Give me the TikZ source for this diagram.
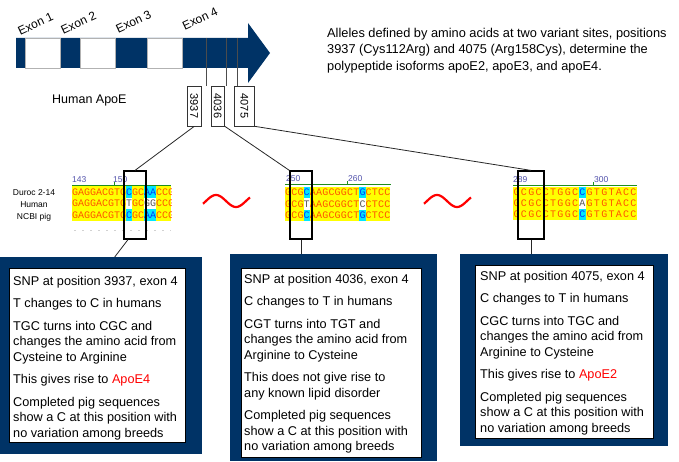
\documentclass[tikz,border=0pt]{standalone}
\usepackage{fontspec}
\setmainfont{Liberation Sans}
\newfontfamily\seqmono{Liberation Mono}
\usetikzlibrary{calc}
\definecolor{navy}{RGB}{0,51,102}
\definecolor{seqorange}{RGB}{255,85,0}
\definecolor{seqyellow}{RGB}{255,255,0}
\definecolor{seqcyan}{RGB}{0,230,255}
\definecolor{seqblue}{RGB}{0,60,255}
\definecolor{seqgrey}{RGB}{90,90,90}
\definecolor{numblue}{RGB}{80,80,170}
\definecolor{rulegreen}{RGB}{30,140,30}
\newcommand\boxfont{\fontsize{12.7}{15.5}\selectfont}
\newcommand\seqrow[6]{%
  \foreach \c/\t [count=\i from 0] in {#6}{%
    \node[seqcell,\t,minimum width=#4pt,minimum height=#5pt] (#1c\i) at ({#2+(\i+0.5)*#4},{#3+#5/2}) {\c};
  }}
\begin{document}
\begin{tikzpicture}[x=1pt,y=-1pt,
  conn/.style={line width=0.8pt,black!85},
  tick/.style={line width=0.7pt,gray!60!black},
  posbox/.style={draw=black!80,line width=0.7pt,fill=white,inner sep=0pt,minimum height=40pt,font=\fontsize{11}{12}\selectfont},
  exonlabel/.style={font=\fontsize{12}{13}\selectfont,inner sep=0pt},
  window/.style={draw=black,line width=1.2pt,inner sep=0pt,minimum height=68pt},
  seqcell/.style={inner sep=0pt,text height=6.5pt,text depth=0pt,font=\seqmono\fontsize{10}{10}\selectfont},
  co/.style={text=seqorange},
  cb/.style={fill=seqcyan,text=seqblue},
  cg/.style={fill=white,text=seqgrey},
  rowlabel/.style={inner sep=0pt,anchor=base,font=\fontsize{8.5}{9}\selectfont},
  seqnum/.style={inner sep=0pt,anchor=base west,text=numblue,font=\fontsize{8.5}{9}\selectfont},
  ruler/.style={rulegreen,line width=0.7pt},
  squig/.style={red,line width=2.2pt},
  outerbox/.style={fill=navy,draw=navy,inner sep=0pt,anchor=north west},
  innerbox/.style={fill=white,draw=black,line width=0.6pt,inner sep=0pt,anchor=north west},
  boxtext/.style={inner sep=0pt,anchor=north west,align=left,font=\boxfont}]
\useasboundingbox (0,0) rectangle (679,462);

% ---- gene arrow ----
\fill[navy] (16,38) -- (248,38) -- (248,23) -- (270,53) -- (248,83) -- (248,68) -- (16,68) -- cycle;
\foreach \a/\b in {25/60,80/115,147/182}
  \filldraw[fill=white,draw=gray!60,line width=0.6pt] (\a,38) rectangle (\b,68);

\node[exonlabel] (ex1) at (35.5,24) {\rotatebox{25}{Exon 1}};
\node[exonlabel] (ex2) at (78.5,23) {\rotatebox{25}{Exon 2}};
\node[exonlabel] (ex3) at (133.5,21.5) {\rotatebox{25}{Exon 3}};
\node[exonlabel] (ex4) at (200,18.5) {\rotatebox{25}{Exon 4}};

\node[inner sep=0pt,anchor=base west,font=\fontsize{12.5}{14}\selectfont] (human) at (52,103.5) {Human ApoE};

% position boxes
\node[posbox,minimum width=13.5pt] (b3937) at (194.25,106) {\rotatebox{-90}{3937}};
\node[posbox,minimum width=13.5pt] (b4036) at (217.75,106) {\rotatebox{-90}{4036}};
\node[posbox,minimum width=20pt] (b4075) at (244.5,106) {\rotatebox{-90}{4075}};
\coordinate (t1) at (206,38);
\coordinate (t2) at (226,38);
\coordinate (t3) at (237.5,38);
\draw[tick] (t1) -- (t1 |- b3937.north);
\draw[tick] (t2) -- (t2 |- b4036.north);
\draw[tick] (t3) -- (t3 |- b4075.north);

% top description
\node[inner sep=0pt,anchor=north west,align=left,font=\fontsize{12.8}{16.7}\selectfont] (desc) at (327,25)
  {\rule{0pt}{12pt}Alleles defined by amino acids at two variant sites, positions\\
   3937 (Cys112Arg) and 4075 (Arg158Cys), determine the\\
   polypeptide isoforms apoE2, apoE3, and apoE4.};

% ---- row labels ----
\node[rowlabel] (lab1) at (34,196) {Duroc 2-14};
\node[rowlabel] (lab2) at (34,207.5) {Human};
\node[rowlabel] (lab3) at (34,219) {NCBI pig};

% ---- block 1 ----
\fill[seqyellow] (72,186) rectangle (171,221);
\begin{scope}
\clip (72,186) rectangle (171,221);
\seqrow{aa}{72}{186}{6}{11.67}{G/co,A/co,G/co,G/co,A/co,C/co,G/co,T/co,G/co,C/cb,G/co,C/co,A/cb,A/cb,C/co,C/co,G/co}
\seqrow{ab}{72}{197.67}{6}{11.67}{G/co,A/co,G/co,G/co,A/co,C/co,G/co,T/co,G/co,T/cg,G/co,C/co,G/cg,G/cg,C/co,C/co,G/co}
\seqrow{ac}{72}{209.33}{6}{11.67}{G/co,A/co,G/co,G/co,A/co,C/co,G/co,T/co,G/co,C/cb,G/co,C/co,A/cb,A/cb,C/co,C/co,G/co}
\end{scope}
\draw[ruler] (72,185) -- (171,185) (114,185) -- (114,182);
\node[seqnum] (n143) at (72,182.5) {143};
\node[seqnum] (n150) at (113,182.5) {150};
\draw[gray!35,line width=0.7pt,dash pattern=on 2pt off 6pt] (74,230) -- (171,230);

% ---- block 2 ----
\fill[seqyellow] (285,187) rectangle (390.4,221);
\seqrow{ba}{285}{187}{6.2}{11.33}{G/co,C/co,G/co,C/cb,A/co,A/co,G/co,C/co,G/co,G/co,C/co,T/co,G/cb,C/co,T/co,C/co,C/co}
\seqrow{bb}{285}{198.33}{6.2}{11.33}{G/co,C/co,G/co,T/cg,A/co,A/co,G/co,C/co,G/co,G/co,C/co,T/co,C/cg,C/co,T/co,C/co,C/co}
\seqrow{bc}{285}{209.67}{6.2}{11.33}{G/co,C/co,G/co,C/cb,A/co,A/co,G/co,C/co,G/co,G/co,C/co,T/co,G/cb,C/co,T/co,C/co,C/co}
\draw[ruler] (285,184.5) -- (391,184.5) (347,184.5) -- (347,181.5);
\node[seqnum] (n250) at (286,181.5) {250};
\node[seqnum] (n260) at (348,181.5) {260};

% ---- block 3 ----
\fill[seqyellow] (513,187) rectangle (637.1,220);
\seqrow{ca}{513}{187}{7.3}{11}{G/co,C/co,G/co,C/co,C/co,T/co,G/co,G/co,C/co,C/cb,G/co,T/co,G/co,T/co,A/co,C/co,C/co}
\seqrow{cb}{513}{198}{7.3}{11}{G/co,C/co,G/co,C/co,C/co,T/co,G/co,G/co,C/co,A/cg,G/co,T/co,G/co,T/co,A/co,C/co,C/co}
\seqrow{cc}{513}{209}{7.3}{11}{G/co,C/co,G/co,C/co,C/co,T/co,G/co,G/co,C/co,C/cb,G/co,T/co,G/co,T/co,A/co,C/co,C/co}
\draw[ruler] (513,185) -- (637,185) (593,185) -- (593,182);
\node[seqnum] (n289) at (513,182.5) {289};
\node[seqnum] (n300) at (594,182.5) {300};

% ---- squiggles ----
\draw[squig] plot[domain=0:47,samples=50,smooth] ({203+\x},{201-6*sin((\x-3)*9)});
\draw[squig] plot[domain=0:47,samples=50,smooth] ({424+\x},{201-6*sin((\x-3)*9)});

% ---- windows ----
\node[window,minimum width=22pt] (w1) at (135,205) {};
\node[window,minimum width=22pt] (w2) at (301,205) {};
\node[window,minimum width=26pt] (w3) at (531,205) {};

\draw[conn] (b3937.south) -- (w1.north);
\draw[conn] (b4036.south east) -- (w2.north west);
\draw[conn] (b4075.south east) -- (w3.north);

% ---- explanation boxes ----
\node[outerbox,minimum width=201pt,minimum height=196pt] (box1) at (0,257) {};
\node[innerbox,minimum width=176pt,minimum height=174pt] (in1) at (9,268) {};
\node[outerbox,minimum width=206pt,minimum height=206pt] (box2) at (230,254) {};
\node[innerbox,minimum width=180pt,minimum height=189pt] (in2) at (241,268) {};
\node[outerbox,minimum width=207pt,minimum height=191pt] (box3) at (460,254) {};
\node[innerbox,minimum width=178pt,minimum height=173pt] (in3) at (475,265) {};

\draw[conn] ($(w1.south)+(-7,0)$) -- ($(box1.north)+(14,0)$);
\draw[conn] (w2.south) -- (w2.south |- box2.north);
\draw[conn] (w3.south) -- (w3.south |- box3.north);

\node[boxtext] (tx1) at (13,274) {\rule{0pt}{11pt}SNP at position 3937, exon 4\\[7pt]
T changes to C in humans\\[7pt]
TGC turns into CGC and\\ changes the amino acid from\\ Cysteine to Arginine\\[7pt]
This gives rise to \textcolor{red}{ApoE4}\\[7pt]
Completed pig sequences\\ show a C at this position with\\ no variation among breeds};

\node[boxtext] (tx2) at (244,272) {\rule{0pt}{11pt}SNP at position 4036, exon 4\\[7pt]
C changes to T in humans\\[7pt]
CGT turns into TGT and\\ changes the amino acid from\\ Arginine to Cysteine\\[7pt]
This does not give rise to\\ any known lipid disorder\\[7pt]
Completed pig sequences\\ show a C at this position with\\ no variation among breeds};

\node[boxtext] (tx3) at (480,269) {\rule{0pt}{11pt}SNP at position 4075, exon 4\\[7pt]
C changes to T in humans\\[7pt]
CGC turns into TGC and\\ changes the amino acid from\\ Arginine to Cysteine\\[7pt]
This gives rise to \textcolor{red}{ApoE2}\\[7pt]
Completed pig sequences\\ show a C at this position with\\ no variation among breeds};
\end{tikzpicture}
\end{document}
